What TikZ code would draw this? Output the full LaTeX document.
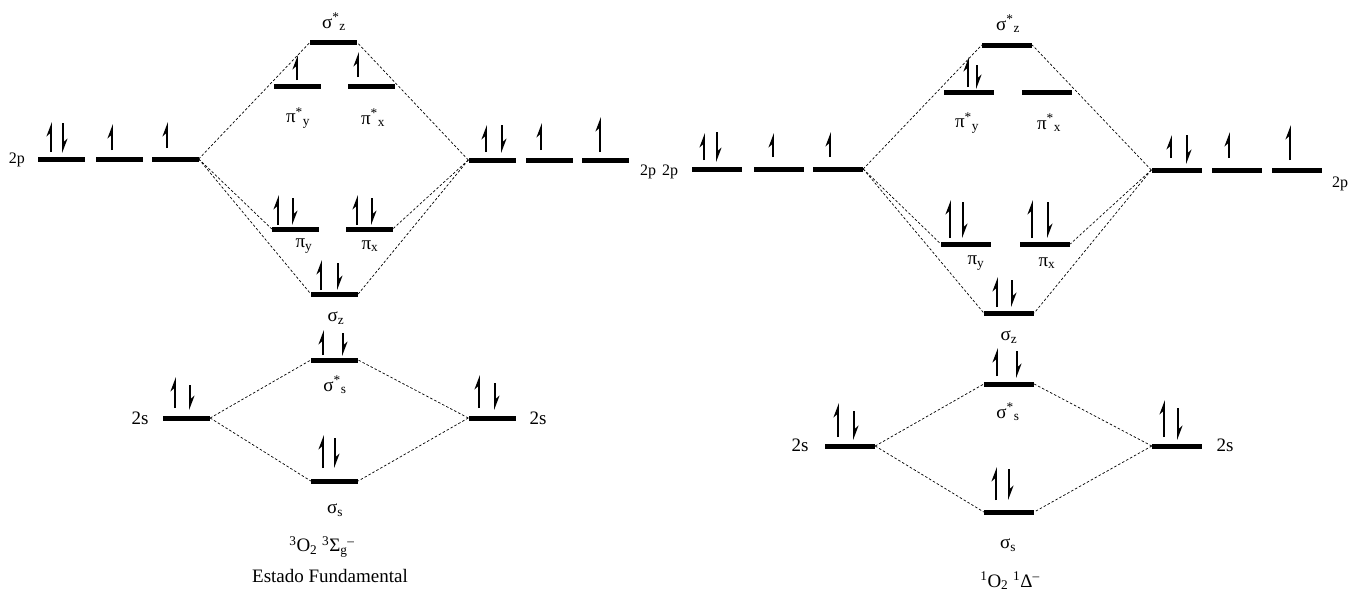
\documentclass[tikz,border=0pt]{standalone}
\usepackage{fontspec}
\setmainfont{Liberation Serif}
\usetikzlibrary{arrows.meta}
\tikzset{
  bar/.style={fill=black, draw=none, inner sep=0pt, minimum width=47pt, minimum height=5pt},
  barR/.style={bar, minimum width=50pt},
  link/.style={dash pattern=on 2.5pt off 2pt, line width=0.7pt},
  spin/.style={line width=1.8pt, -{Stealth[left, length=12pt, width=9pt]}},
  lab/.style={font=\fontsize{19}{21}\selectfont, inner sep=0pt},
  small/.style={font=\fontsize{16}{18}\selectfont, inner sep=0pt},
}
\newcommand\eup[3]{\draw[spin] (#1,#3) -- (#1,#2);}
\newcommand\edn[3]{\draw[spin] (#1,#2) -- (#1,#3);}
\begin{document}
\begin{tikzpicture}[x=1pt,y=-1pt]
\useasboundingbox (0,0) rectangle (1351,595);
% ================= LEFT DIAGRAM =================
\node[bar] (aL1) at (61.5,159) {};
\node[bar] (aL2) at (119.5,159) {};
\node[bar] (aL3) at (175,159) {};
\node[bar] (aR1) at (492,160) {};
\node[bar] (aR2) at (549,160) {};
\node[bar] (aR3) at (605.5,160) {};
\node[bar] (aSZs) at (333.5,42.5) {};
\node[bar] (aPYs) at (297.5,86.5) {};
\node[bar] (aPXs) at (371.5,86.5) {};
\node[bar] (aPY) at (295.5,229) {};
\node[bar] (aPX) at (369,229) {};
\node[bar] (aSZ) at (334.5,294) {};
\node[bar] (aSSs) at (334.5,360) {};
\node[bar] (aL2s) at (186.5,418) {};
\node[bar] (aR2s) at (492,418) {};
\node[bar] (aSS) at (334.5,481) {};
% connectors
\draw[link] (aL3.east) -- (aSZs.west);
\draw[link] (aL3.east) -- (aPY.west);
\draw[link] (aL3.east) -- (aSZ.west);
\draw[link] (aR1.west) -- (aSZs.east);
\draw[link] (aR1.west) -- (aPX.east);
\draw[link] (aR1.west) -- (aSZ.east);
\draw[link] (aL2s.east) -- (aSSs.west);
\draw[link] (aL2s.east) -- (aSS.west);
\draw[link] (aR2s.west) -- (aSSs.east);
\draw[link] (aR2s.west) -- (aSS.east);
% electrons
\eup{51}{122}{152}\edn{63}{123}{153}
\eup{112}{124}{150}
\eup{167}{122}{148}
\eup{486}{125}{152}\edn{502}{125}{153}
\eup{541}{123}{150}
\eup{600}{117}{152}
\eup{297}{55}{80}
\eup{358}{52}{77}
\eup{278}{195}{225}\edn{293}{198}{225}
\eup{357}{195}{225}\edn{372}{198}{225}
\eup{321}{260}{290}\edn{338}{263}{290}
\eup{323}{330}{355}\edn{343}{333}{356}
\eup{175}{377}{408}\edn{190}{385}{410}
\eup{479}{375}{408}\edn{495}{383}{410}
\eup{323}{435}{468}\edn{335}{438}{468}
% labels
\node[small] (tL2p) at (17,160) {2p};
\node[small] (tR2p) at (648,172) {2p};
\node[lab] (tSZs) at (334,22) {σ\textsuperscript{*}\textsubscript{z}};
\node[lab] (tPYs) at (298,118) {π\textsuperscript{*}\textsubscript{y}};
\node[lab] (tPXs) at (373,118) {π\textsuperscript{*}\textsubscript{x}};
\node[lab] (tPY) at (304,246) {π\textsubscript{y}};
\node[lab] (tPX) at (370,246) {π\textsubscript{x}};
\node[lab] (tSZ) at (336,318) {σ\textsubscript{z}};
\node[lab] (tSSs) at (335,385) {σ\textsuperscript{*}\textsubscript{s}};
\node[lab] (tSS) at (335,510) {σ\textsubscript{s}};
\node[lab] (tL2s) at (140,418) {2s};
\node[lab] (tR2s) at (538,418) {2s};
\node[lab] (cap1) at (322,547) {\textsuperscript{3}O\textsubscript{2} \textsuperscript{3}Σ\textsubscript{g}\textsuperscript{–}};
\node[lab] (cap2) at (330,576) {Estado Fundamental};
% ================= RIGHT DIAGRAM =================
\node[barR] (bL1) at (717,169) {};
\node[barR] (bL2) at (779,169) {};
\node[barR] (bL3) at (838,169) {};
\node[barR] (bR1) at (1176.5,170) {};
\node[barR] (bR2) at (1237,170) {};
\node[barR] (bR3) at (1297,170) {};
\node[barR] (bSZs) at (1007,45) {};
\node[barR] (bPYs) at (969,92) {};
\node[barR] (bPXs) at (1047,92) {};
\node[barR] (bPY) at (966,244) {};
\node[barR] (bPX) at (1045,244) {};
\node[barR] (bSZ) at (1009,313) {};
\node[barR] (bSSs) at (1009,384) {};
\node[barR] (bL2s) at (850,446) {};
\node[barR] (bR2s) at (1177,446) {};
\node[barR] (bSS) at (1009,512) {};
\draw[link] (bL3.east) -- (bSZs.west);
\draw[link] (bL3.east) -- (bPY.west);
\draw[link] (bL3.east) -- (bSZ.west);
\draw[link] (bR1.west) -- (bSZs.east);
\draw[link] (bR1.west) -- (bPX.east);
\draw[link] (bR1.west) -- (bSZ.east);
\draw[link] (bL2s.east) -- (bSSs.west);
\draw[link] (bL2s.east) -- (bSS.west);
\draw[link] (bR2s.west) -- (bSSs.east);
\draw[link] (bR2s.west) -- (bSS.east);
\eup{704}{133}{160}\edn{717}{132}{162}
\eup{773}{133}{157}
\eup{830}{132}{157}
\eup{1171}{135}{158}\edn{1187}{135}{164}
\eup{1229}{132}{158}
\eup{1290}{125}{160}
\eup{968}{57}{87}\edn{977}{65}{89}
\eup{950}{200}{238}\edn{963}{202}{238}
\eup{1032}{200}{238}\edn{1048}{202}{238}
\eup{997}{277}{307}\edn{1012}{280}{307}
\eup{997}{348}{376}\edn{1017}{351}{378}
\eup{838}{403}{437}\edn{854}{411}{440}
\eup{1164}{400}{437}\edn{1178}{408}{440}
\eup{996}{467}{500}\edn{1009}{469}{500}
\node[small] (uL2p) at (670,172) {2p};
\node[small] (uR2p) at (1340,184) {2p};
\node[lab] (uSZs) at (1008,24) {σ\textsuperscript{*}\textsubscript{z}};
\node[lab] (uPYs) at (967,123) {π\textsuperscript{*}\textsubscript{y}};
\node[lab] (uPXs) at (1049,123) {π\textsuperscript{*}\textsubscript{x}};
\node[lab] (uPY) at (976,263) {π\textsubscript{y}};
\node[lab] (uPX) at (1047,263) {π\textsubscript{x}};
\node[lab] (uSZ) at (1009,337) {σ\textsubscript{z}};
\node[lab] (uSSs) at (1008,412) {σ\textsuperscript{*}\textsubscript{s}};
\node[lab] (uSS) at (1008,545) {σ\textsubscript{s}};
\node[lab] (uL2s) at (800,445) {2s};
\node[lab] (uR2s) at (1225,445) {2s};
\node[lab] (cap3) at (1010,581) {\textsuperscript{1}O\textsubscript{2} \textsuperscript{1}Δ\textsuperscript{–}};
\end{tikzpicture}
\end{document}
